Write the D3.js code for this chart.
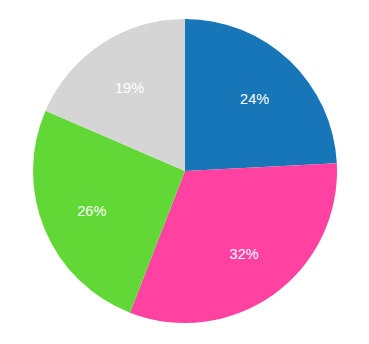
<!DOCTYPE html>
<html><head><meta charset="utf-8">
<script src="https://cdn.jsdelivr.net/npm/d3@7"></script>
<style>html,body{margin:0;padding:0;background:#fff;}</style>
</head><body>
<svg id="chart" width="369" height="344"></svg>
<script>
const categories = ["A", "B", "C", "D"];
const values = [24.2, 31.7, 25.6, 18.5];
const colors = ["#1776B7", "#FF42A1", "#61D836", "#D5D5D5"];

const svg = d3.select("#chart");
const cx = 185, cy = 171, r = 152, labelR = 101;
const g = svg.append("g").attr("transform", `translate(${cx},${cy})`);
const data = categories.map((c, i) => ({cat: c, value: values[i], color: colors[i]}));
const pie = d3.pie().value(d => d.value).sort(null);
const arcs = pie(data);
const arc = d3.arc().innerRadius(0).outerRadius(r);
const labelArc = d3.arc().innerRadius(labelR).outerRadius(labelR);
g.selectAll("path").data(arcs).join("path")
  .attr("d", arc).attr("fill", d => d.data.color);
g.selectAll("text").data(arcs).join("text")
  .attr("transform", d => `translate(${labelArc.centroid(d)})`)
  .attr("text-anchor", "middle").attr("dy", "0.45em")
  .attr("fill", "#fff")
  .style("font-family", "'Liberation Sans', Arial, sans-serif")
  .style("font-size", "14.5px")
  .text(d => Math.round(d.data.value) + "%");
</script>
</body></html>
